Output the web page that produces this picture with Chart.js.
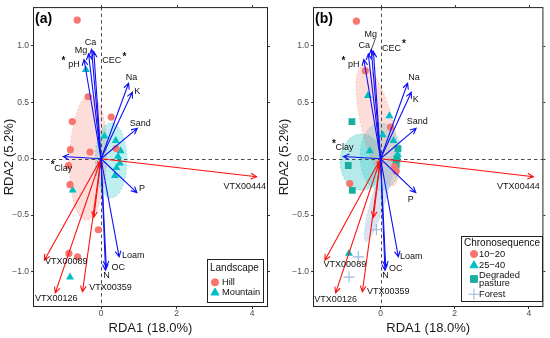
<!DOCTYPE html>
<html>
<head>
<meta charset="utf-8">
<script src="https://cdn.jsdelivr.net/npm/chart.js@4.4.1/dist/chart.umd.min.js"></script>
<style>
  body { margin: 0; background: #fff; }
  #wrap { position: relative; width: 550px; height: 338px; }
  canvas { position: absolute; top: 0; }
</style>
</head>
<body>
<div id="wrap">
  <canvas id="panelA" width="275" height="338" style="left:0"></canvas>
  <canvas id="panelB" width="275" height="338" style="left:275px"></canvas>
</div>
<script>
// axis ticks
const xTicks = [0, 2, 4];
const xTickLabels = ['0', '2', '4'];
const yTicks = [-1, -0.5, 0, 0.5, 1];
const yTickLabels = ['\u22121.0', '\u22120.5', '0.0', '0.5', '1.0'];

// soil variables (blue arrows)
const envNames = ['pH', 'Mg', 'Ca', 'CEC', 'Na', 'K', 'Sand', 'Clay', 'P', 'Loam', 'OC', 'N'];
const envX = [-0.45, -0.33, -0.25, -0.19, 0.73, 0.83, 0.96, -1.0, 0.95, 0.48, 0.14, 0.12];
const envY = [0.88, 0.93, 0.97, 0.95, 0.67, 0.59, 0.27, 0.02, -0.30, -0.87, -0.96, -0.99];
const starred = ['pH', 'CEC', 'Clay'];

// AMF taxa (red arrows)
const sppNames = ['VTX00444', 'VTX00089', 'VTX00126', 'VTX00359', '', ''];
const sppX = [4.12, -1.50, -1.21, -0.49, -0.19, -0.05];
const sppY = [-0.16, -0.90, -1.19, -1.18, -0.52, -0.08];

// panel (a): landscape
const hillX = [-0.63, -0.34, -0.76, 0.27, -0.81, -0.29, 0.40, -0.86, -0.82, -0.07, -0.85, -0.62];
const hillY = [1.23, 0.55, 0.33, 0.37, 0.08, 0.06, 0.09, -0.06, -0.23, -0.63, -0.84, -0.87];
const mountainX = [-0.40, 0.09, 0.39, 0.52, 0.45, 0.50, 0.41, 0.37, -0.75, -0.82];
const mountainY = [0.79, 0.20, 0.16, 0.07, 0.02, -0.04, -0.08, -0.15, -0.28, -1.05];

// panel (b): chronosequence
const c1020X = [-0.65, -0.41, 0.27, -0.83, 0.42, 0.38];
const c1020Y = [1.22, 0.78, 0.28, -0.22, -0.11, -0.07];
const c2540X = [-0.34, 0.24, 0.06, 0.35, -0.29, 0.46, -0.85];
const c2540Y = [0.56, 0.38, 0.21, 0.16, 0.07, 0.04, -0.84];
const degradedX = [-0.77, -0.87, -0.76, 0.47, 0.44, 0.42];
const degradedY = [0.33, -0.06, -0.28, 0.09, 0.00, -0.05];
const forestX = [-0.11, -0.60, -0.85];
const forestY = [-0.63, -0.87, -1.05];

// group ellipses: [centre x, centre y, half-width, half-height, tilt deg]
const hillEllipse = [-0.34, 0.01, 0.49, 0.555, 2];
const mountainEllipse = [0.265, -0.015, 0.42, 0.335, 0];
const e1020 = [-0.08, 0.29, 0.43, 0.55, -14];
const e2540 = [0.0, 0.02, 0.55, 0.30, 0];
const eDegraded = [-0.51, -0.03, 0.58, 0.25, 0];
const eForest = [-0.05, -0.36, 0.19, 0.39, 17];

const FONT = '"Liberation Sans", Arial, sans-serif';
const SALMON = '#F8766D', CYAN = '#00BFC4', TEAL = '#1AAE9F', FOREST = '#9DB9DD';

const styles = {
  circle: { pointStyle: 'circle', radius: 3.6 },
  triangle: { pointStyle: 'triangle', radius: 4.6 },
  rect: { pointStyle: 'rect', radius: 4.8 },
  cross: { pointStyle: 'cross', radius: 5.5 }
};

function pts(xs, ys) {
  return xs.map((v, i) => ({ x: v, y: ys[i] }));
}

function group(label, xs, ys, st, color) {
  const s = styles[st];
  return {
    label: label,
    data: pts(xs, ys),
    pointStyle: s.pointStyle,
    pointRadius: s.radius,
    backgroundColor: color,
    borderColor: color,
    borderWidth: st === 'cross' ? 1.1 : 0
  };
}

function drawArrow(ctx, x0, y0, x1, y1, color) {
  const ang = Math.atan2(y1 - y0, x1 - x0);
  const len = 6.5, spread = 0.45;
  ctx.strokeStyle = color;
  ctx.lineWidth = 1.1;
  ctx.beginPath();
  ctx.moveTo(x0, y0);
  ctx.lineTo(x1, y1);
  ctx.moveTo(x1 - len * Math.cos(ang - spread), y1 - len * Math.sin(ang - spread));
  ctx.lineTo(x1, y1);
  ctx.lineTo(x1 - len * Math.cos(ang + spread), y1 - len * Math.sin(ang + spread));
  ctx.stroke();
}

const biplot = {
  id: 'biplot',
  beforeDatasetsDraw(chart, args, o) {
    const { ctx, chartArea: a, scales: { x, y } } = chart;
    ctx.save();
    ctx.beginPath();
    ctx.rect(a.left, a.top, a.right - a.left, a.bottom - a.top);
    ctx.clip();
    o.ellipses.forEach(e => {
      const cx = x.getPixelForValue(e.p[0]), cy = y.getPixelForValue(e.p[1]);
      const rx = Math.abs(x.getPixelForValue(e.p[0] + e.p[2]) - cx);
      const ry = Math.abs(y.getPixelForValue(e.p[1] + e.p[3]) - cy);
      ctx.beginPath();
      ctx.ellipse(cx, cy, rx, ry, e.p[4] * Math.PI / 180, 0, Math.PI * 2);
      ctx.fillStyle = e.fill;
      ctx.fill();
      ctx.setLineDash([2, 2]);
      ctx.lineWidth = 0.6;
      ctx.strokeStyle = e.stroke;
      ctx.stroke();
      ctx.setLineDash([]);
    });
    // zero lines
    const x0 = Math.round(x.getPixelForValue(0)) + 0.5;
    const y0 = Math.round(y.getPixelForValue(0)) + 0.5;
    ctx.setLineDash([3.5, 3]);
    ctx.strokeStyle = '#4a4a4a';
    ctx.lineWidth = 1;
    ctx.beginPath();
    ctx.moveTo(x0, a.top); ctx.lineTo(x0, a.bottom);
    ctx.moveTo(a.left, y0); ctx.lineTo(a.right, y0);
    ctx.stroke();
    ctx.restore();
  },
  afterDatasetsDraw(chart, args, o) {
    const { ctx, chartArea: a, scales: { x, y } } = chart;
    const ox = x.getPixelForValue(0), oy = y.getPixelForValue(0);
    ctx.save();
    // arrows
    sppNames.forEach((n, i) => {
      drawArrow(ctx, ox, oy, x.getPixelForValue(sppX[i]), y.getPixelForValue(sppY[i]), '#FF1010');
    });
    envNames.forEach((n, i) => {
      drawArrow(ctx, ox, oy, x.getPixelForValue(envX[i]), y.getPixelForValue(envY[i]), '#1010F5');
    });
    // labels
    ctx.textAlign = 'center';
    ctx.textBaseline = 'middle';
    const put = (n, tx, ty) => {
      if (!n) return;
      const off = o.offsets[n];
      const lx = tx + off[0], ly = ty + off[1];
      ctx.font = '9px ' + FONT;
      ctx.fillStyle = '#111';
      ctx.fillText(n, lx, ly);
      if (starred.includes(n)) {
        ctx.font = 'bold 10px ' + FONT;
        const sx = n === 'CEC' ? 12.5 : -10.5;
        ctx.fillText('*', lx + sx, ly - 3.5);
      }
    };
    envNames.forEach((n, i) => put(n, x.getPixelForValue(envX[i]), y.getPixelForValue(envY[i])));
    sppNames.forEach((n, i) => put(n, x.getPixelForValue(sppX[i]), y.getPixelForValue(sppY[i])));
    if (o.leader) {
      const i = envNames.indexOf(o.leader.name);
      const tx = x.getPixelForValue(envX[i]), ty = y.getPixelForValue(envY[i]);
      const l = o.leader.seg;
      ctx.strokeStyle = '#222';
      ctx.lineWidth = 0.8;
      ctx.beginPath();
      ctx.moveTo(tx + l[0], ty + l[1]);
      ctx.lineTo(tx + l[2], ty + l[3]);
      ctx.stroke();
    }
    // frame and mirrored ticks
    ctx.strokeStyle = '#222';
    ctx.lineWidth = 1;
    ctx.strokeRect(a.left + 0.5, a.top + 0.5, a.right - a.left - 1, a.bottom - a.top - 1);
    ctx.strokeStyle = '#333';
    ctx.beginPath();
    xTicks.forEach(v => {
      const px = Math.round(x.getPixelForValue(v)) + 0.5;
      ctx.moveTo(px, a.top); ctx.lineTo(px, a.top - 2);
    });
    yTicks.forEach(v => {
      const py = Math.round(y.getPixelForValue(v)) + 0.5;
      ctx.moveTo(a.right, py); ctx.lineTo(a.right + 2, py);
    });
    ctx.stroke();
    // panel tag
    ctx.font = 'bold 14px ' + FONT;
    ctx.fillStyle = '#000';
    ctx.textAlign = 'left';
    ctx.textBaseline = 'alphabetic';
    ctx.fillText(o.tag, a.left + 2, a.top + 16);
    // legend
    const L = o.legend;
    ctx.fillStyle = '#fff';
    ctx.fillRect(L.box[0], L.box[1], L.box[2] - L.box[0], L.box[3] - L.box[1]);
    ctx.strokeStyle = '#222';
    ctx.lineWidth = 1;
    ctx.strokeRect(L.box[0] + 0.5, L.box[1] + 0.5, L.box[2] - L.box[0], L.box[3] - L.box[1]);
    ctx.fillStyle = '#111';
    ctx.textBaseline = 'middle';
    ctx.font = '10px ' + FONT;
    ctx.fillText(L.title, L.titleX, L.titleY);
    ctx.font = '9.3px ' + FONT;
    L.items.forEach(it => {
      const s = styles[it.st];
      ctx.fillStyle = it.color;
      ctx.strokeStyle = it.color;
      ctx.lineWidth = it.st === 'cross' ? 1.1 : 0;
      Chart.helpers.drawPoint(ctx, { pointStyle: s.pointStyle, radius: s.radius, rotation: 0, borderWidth: ctx.lineWidth }, L.symX, it.y);
      ctx.fillStyle = '#111';
      it.text.forEach(t => ctx.fillText(t[0], L.textX, t[1]));
    });
    ctx.restore();
  }
};

function makePanel(id, cfg) {
  return new Chart(document.getElementById(id), {
    type: 'scatter',
    data: { datasets: cfg.datasets },
    options: {
      responsive: false,
      animation: false,
      layout: { padding: { left: 0, top: 4, right: cfg.padRight, bottom: 0 } },
      scales: {
        x: {
          type: 'linear', position: 'bottom', min: cfg.xMin, max: cfg.xMax,
          afterBuildTicks: s => { s.ticks = xTicks.map(v => ({ value: v })); },
          afterFit: s => { s.height = 31; },
          ticks: {
            autoSkip: false, maxRotation: 0, padding: 0, color: '#4D4D4D',
            font: { family: FONT, size: 8.5 },
            callback: v => xTickLabels[xTicks.indexOf(v)]
          },
          grid: { drawOnChartArea: false, drawTicks: true, tickLength: 2, color: '#333' },
          border: { display: false },
          title: { display: true, text: 'RDA1 (18.0%)', color: '#1A1A1A', font: { family: FONT, size: 13 }, padding: { top: 0, bottom: 2 } }
        },
        y: {
          type: 'linear', position: 'left', min: -1.315, max: 1.345,
          afterBuildTicks: s => { s.ticks = yTicks.map(v => ({ value: v })); },
          afterFit: s => { s.width = cfg.leftW; },
          ticks: {
            autoSkip: false, padding: 2, color: '#4D4D4D',
            font: { family: FONT, size: 8.5 },
            callback: v => yTickLabels[yTicks.indexOf(v)]
          },
          grid: { drawOnChartArea: false, drawTicks: true, tickLength: 2, color: '#333' },
          border: { display: false },
          title: { display: true, text: 'RDA2 (5.2%)', color: '#1A1A1A', font: { family: FONT, size: 13 }, padding: { top: 2, bottom: 0 } }
        }
      },
      plugins: {
        legend: { display: false },
        tooltip: { enabled: false },
        biplot: cfg.plot
      }
    },
    plugins: [biplot]
  });
}

makePanel('panelA', {
  leftW: 33, padRight: 7, xMin: -1.8, xMax: 4.42,
  datasets: [
    group('Hill', hillX, hillY, 'circle', SALMON),
    group('Mountain', mountainX, mountainY, 'triangle', CYAN)
  ],
  plot: {
    tag: '(a)',
    ellipses: [
      { p: hillEllipse, fill: 'rgba(248,118,109,0.25)', stroke: 'rgba(248,118,109,0.6)' },
      { p: mountainEllipse, fill: 'rgba(0,191,196,0.25)', stroke: 'rgba(0,191,196,0.6)' }
    ],
    offsets: {
      pH: [-10, 5], Mg: [-7.5, -3], Ca: [-1, -6.5], CEC: [18, 9], Na: [3, -6], K: [5, -1],
      Sand: [3, -5], Clay: [0, 12], P: [5, -4.5], Loam: [14, -1], OC: [12, 1], N: [1, 5.5],
      VTX00444: [-12, 10], VTX00089: [22, 1], VTX00126: [1, 6], VTX00359: [28, -4.5]
    },
    legend: {
      box: [207, 259, 263, 302], title: 'Landscape', titleX: 210, titleY: 268.5,
      symX: 215, textX: 222,
      items: [
        { st: 'circle', color: SALMON, y: 282.3, text: [['Hill', 282.3]] },
        { st: 'triangle', color: CYAN, y: 292.7, text: [['Mountain', 292.7]] }
      ]
    }
  }
});

makePanel('panelB', {
  leftW: 38, padRight: 4, xMin: -1.82, xMax: 4.39,
  datasets: [
    group('10\u221220', c1020X, c1020Y, 'circle', SALMON),
    group('25\u221240', c2540X, c2540Y, 'triangle', CYAN),
    group('Degraded pasture', degradedX, degradedY, 'rect', TEAL),
    group('Forest', forestX, forestY, 'cross', FOREST)
  ],
  plot: {
    tag: '(b)',
    ellipses: [
      { p: eDegraded, fill: 'rgba(26,190,185,0.32)', stroke: 'rgba(26,174,159,0.6)' },
      { p: e2540, fill: 'rgba(0,191,196,0.22)', stroke: 'rgba(0,191,196,0.6)' },
      { p: e1020, fill: 'rgba(248,118,109,0.25)', stroke: 'rgba(248,118,109,0.6)' },
      { p: eForest, fill: 'rgba(157,185,221,0.4)', stroke: 'rgba(157,185,221,0.8)' }
    ],
    offsets: {
      pH: [-10, 5], Mg: [2.5, -19], Ca: [-7, -4], CEC: [18, -3.5], Na: [6.5, -6], K: [4.5, 7],
      Sand: [1, -7], Clay: [1, -9], P: [-5, 6.5], Loam: [13, 0], OC: [10, 2], N: [0.5, 5.5],
      VTX00444: [-15, 9.5], VTX00089: [20, 4], VTX00126: [0, 7], VTX00359: [26, 0]
    },
    leader: { name: 'Mg', seg: [7, -15, 3, -4] },
    legend: {
      box: [186, 236, 267, 301], title: 'Chronosequence', titleX: 189, titleY: 243.5,
      symX: 199, textX: 204,
      items: [
        { st: 'circle', color: SALMON, y: 254, text: [['10\u221220', 254]] },
        { st: 'triangle', color: CYAN, y: 265.5, text: [['25\u221240', 265.5]] },
        { st: 'rect', color: TEAL, y: 279, text: [['Degraded', 275], ['pasture', 283.5]] },
        { st: 'cross', color: FOREST, y: 294.3, text: [['Forest', 294.3]] }
      ]
    }
  }
});
</script>
</body>
</html>
